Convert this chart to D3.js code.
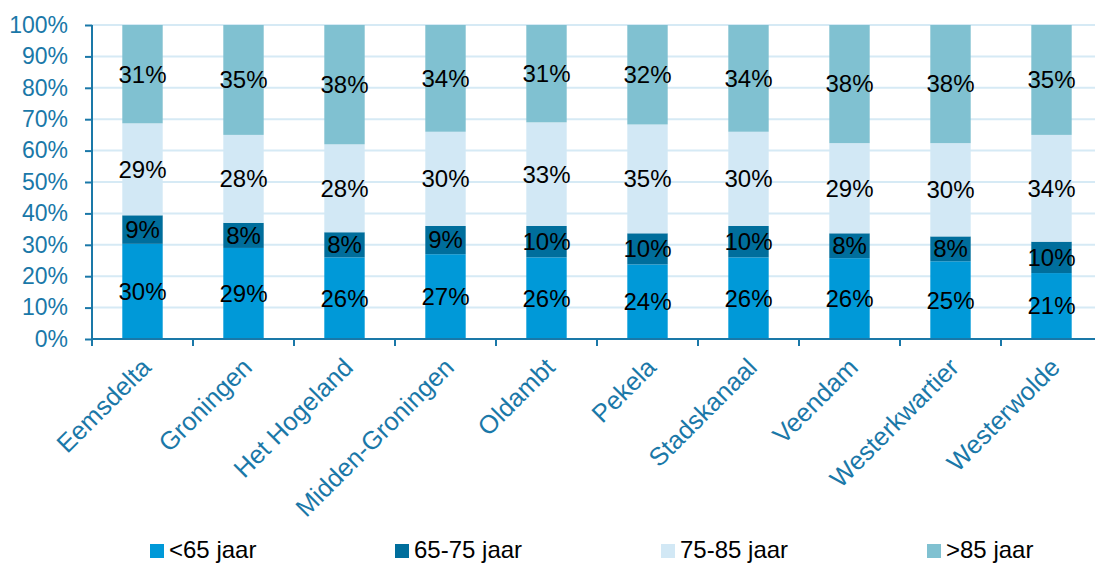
<!DOCTYPE html>
<html>
<head>
<meta charset="utf-8">
<script src="https://cdn.jsdelivr.net/npm/d3@7"></script>
<style>
  html, body { margin: 0; padding: 0; background: #fff; }
  svg { display: block; font-family: "Liberation Sans", Arial, sans-serif; }
</style>
</head>
<body>
<svg id="chart" width="1095" height="563"></svg>
<script>
// Gemeenten and age-group shares (percent)
const gemeenten = ["Eemsdelta", "Groningen", "Het Hogeland", "Midden-Groningen", "Oldambt",
                   "Pekela", "Stadskanaal", "Veendam", "Westerkwartier", "Westerwolde"];
const groepen = ["<65 jaar", "65-75 jaar", "75-85 jaar", ">85 jaar"];
const onder65   = [30, 29, 26, 27, 26, 24, 26, 26, 25, 21];
const van65tot75 = [9, 8, 8, 9, 10, 10, 10, 8, 8, 10];
const van75tot85 = [29, 28, 28, 30, 33, 35, 30, 29, 30, 34];
const boven85   = [31, 35, 38, 34, 31, 32, 34, 38, 38, 35];
const yTicks = [0, 0.1, 0.2, 0.3, 0.4, 0.5, 0.6, 0.7, 0.8, 0.9, 1.0];

const kleuren = ["#0099d8", "#006e9c", "#d2e8f5", "#80c1d1"];
const axisColor = "#1a78a8";
const gridColor = "#d6eaf5";

const series = [onder65, van65tot75, van75tot85, boven85];
const rows = gemeenten.map((g, i) => {
  const r = { gemeente: g };
  groepen.forEach((k, j) => { r[k] = series[j][i]; });
  return r;
});

// each bar is normalised to 100%
const stacked = d3.stack().keys(groepen).offset(d3.stackOffsetExpand)(rows);

const svg = d3.select("#chart");
const plotLeft = 92, plotTop = 25, plotBottom = 339;

const x = d3.scaleBand().domain(gemeenten).range([plotLeft, plotLeft + 1010])
  .paddingInner(0.6).paddingOuter(0.3);
const y = d3.scaleLinear().domain([0, 1]).range([plotBottom, plotTop]);

// gridlines
svg.append("g").selectAll("line").data(yTicks.slice(1)).join("line")
  .attr("x1", plotLeft).attr("x2", 1095)
  .attr("y1", d => y(d)).attr("y2", d => y(d))
  .attr("stroke", gridColor).attr("stroke-width", 2);

// bars
const layer = svg.append("g").selectAll("g").data(stacked).join("g")
  .attr("fill", (d, i) => kleuren[i]);
layer.selectAll("rect").data(d => d.map(v => ({ v, key: d.key }))).join("rect")
  .attr("x", d => x(d.v.data.gemeente))
  .attr("width", x.bandwidth())
  .attr("y", d => y(d.v[1]))
  .attr("height", d => y(d.v[0]) - y(d.v[1]));

// value labels
const labels = svg.append("g").attr("font-size", 24).attr("fill", "#000").attr("text-anchor", "middle");
stacked.forEach(s => {
  s.forEach(v => {
    labels.append("text")
      .attr("x", x(v.data.gemeente) + x.bandwidth() / 2)
      .attr("y", y((v[0] + v[1]) / 2))
      .attr("dy", "0.35em")
      .text(v.data[s.key] + "%");
  });
});

// y axis
const yAxis = d3.axisLeft(y).tickValues(yTicks).tickFormat(d3.format(".0%")).tickSize(7).tickPadding(17);
const gy = svg.append("g").attr("transform", `translate(${plotLeft},0)`).call(yAxis);
gy.select(".domain").attr("stroke", axisColor).attr("stroke-width", 2).attr("d", `M0,${plotTop}V${plotBottom}`);
gy.selectAll(".tick line").attr("stroke", axisColor).attr("stroke-width", 2);
gy.selectAll(".tick text").attr("fill", axisColor).attr("font-size", 23)
  .attr("font-family", "Liberation Sans, Arial, sans-serif");

// x axis line with ticks at category boundaries
svg.append("line").attr("x1", plotLeft).attr("x2", 1095).attr("y1", plotBottom).attr("y2", plotBottom)
  .attr("stroke", axisColor).attr("stroke-width", 2);
const step = x.step();
svg.append("g").selectAll("line").data(gemeenten).join("line")
  .attr("x1", d => x(d) - step * 0.3).attr("x2", d => x(d) - step * 0.3)
  .attr("y1", plotBottom).attr("y2", plotBottom + 7)
  .attr("stroke", axisColor).attr("stroke-width", 2);

// category labels, rotated
svg.append("g").selectAll("text").data(gemeenten).join("text")
  .attr("transform", d => `translate(${x(d) + x.bandwidth() / 2 + 10},${plotBottom + 30}) rotate(-45)`)
  .attr("text-anchor", "end")
  .attr("font-size", 25.5)
  .attr("fill", axisColor)
  .text(d => d);

// legend
const legendX = [150, 395, 661, 927];
const legend = svg.append("g").selectAll("g").data(groepen).join("g")
  .attr("transform", (d, i) => `translate(${legendX[i]},544)`);
legend.append("rect").attr("width", 14).attr("height", 14).attr("fill", (d, i) => kleuren[i]);
legend.append("text").attr("x", 19).attr("y", 14).attr("font-size", 24).attr("fill", "#000").text(d => d);
</script>
</body>
</html>
